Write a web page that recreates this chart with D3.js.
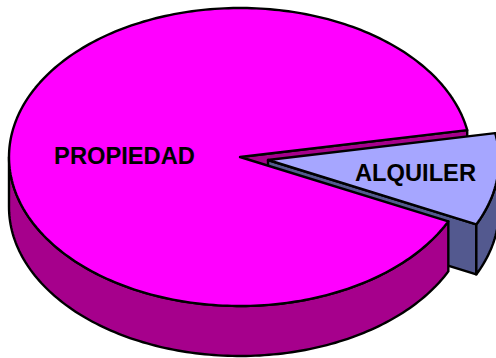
<!DOCTYPE html>
<html>
<head>
<meta charset="utf-8">
<style>html,body{margin:0;padding:0;background:#fff;overflow:hidden}svg{display:block}</style>
<script src="https://cdn.jsdelivr.net/npm/d3@7/dist/d3.min.js"></script>
</head>
<body>
<svg id="chart" width="496" height="358"></svg>
<script>
const categories = ["ALQUILER", "PROPIEDAD"];
const values = [10, 90];
const topColors = ["#A6A6FF", "#FF00FF"];
const sideColors = ["#53598F", "#A6008C"];

const W = 496, H = 358, rx = 231, ry = 149, depth = 50;
const centers = [{x: 268, y: 160}, {x: 240, y: 157}];
const labelPos = [{x: 415.5, y: 173}, {x: 124.5, y: 156}];
const startDeg = 79.6;

const svg = d3.select("#chart");
const pie = d3.pie().sort(null).startAngle(startDeg * Math.PI / 180).endAngle((startDeg + 360) * Math.PI / 180);
const arcs = pie(values);

function project(i) {
  const x = d3.scaleLinear().domain([-1, 1]).range([centers[i].x - rx, centers[i].x + rx]);
  const y = d3.scaleLinear().domain([-1, 1]).range([centers[i].y - ry, centers[i].y + ry]);
  return (a, r = 1, dz = 0) => [x(r * Math.sin(a)), y(-r * Math.cos(a)) + dz];
}
const line = d3.line();
function samples(a0, a1) {
  const n = Math.max(2, Math.ceil(Math.abs(a1 - a0) / 0.02));
  return d3.range(n + 1).map(k => a0 + (a1 - a0) * k / n);
}
function topPath(i) {
  const p = project(i), d = arcs[i];
  return line([p(0, 0), ...samples(d.startAngle, d.endAngle).map(a => p(a))]) + "Z";
}
function cutWall(i, a) {
  const p = project(i);
  return line([p(0, 0), p(a), p(a, 1, depth), p(0, 0, depth)]) + "Z";
}
function rimWall(i, a0, a1) {
  const p = project(i), s = samples(a0, a1);
  return line([...s.map(a => p(a)), ...s.slice().reverse().map(a => p(a, 1, depth))]) + "Z";
}
function draw(path, fill) {
  svg.append("path").attr("d", path).attr("fill", fill)
    .attr("stroke", "#000").attr("stroke-width", 2.4).attr("stroke-linejoin", "round");
}

const [alq, pro] = arcs;
// Back cut wall of the large slice
draw(cutWall(1, pro.endAngle), sideColors[1]);
// Small slice: walls and top
draw(cutWall(0, alq.endAngle), sideColors[0]);
draw(rimWall(0, alq.startAngle, alq.endAngle), sideColors[0]);
draw(topPath(0), topColors[0]);
// Large slice: front rim and top (rim visible from its start to the left extreme)
draw(rimWall(1, pro.startAngle, 1.5 * Math.PI), sideColors[1]);
draw(topPath(1), topColors[1]);

svg.selectAll("text").data(categories).join("text")
  .attr("x", (d, i) => labelPos[i].x)
  .attr("y", (d, i) => labelPos[i].y)
  .attr("text-anchor", "middle").attr("dominant-baseline", "central")
  .attr("font-family", "'Liberation Sans', Arial, sans-serif")
  .attr("font-weight", "bold").attr("font-size", 23.7).attr("fill", "#000")
  .text(d => d);
</script>
</body>
</html>
